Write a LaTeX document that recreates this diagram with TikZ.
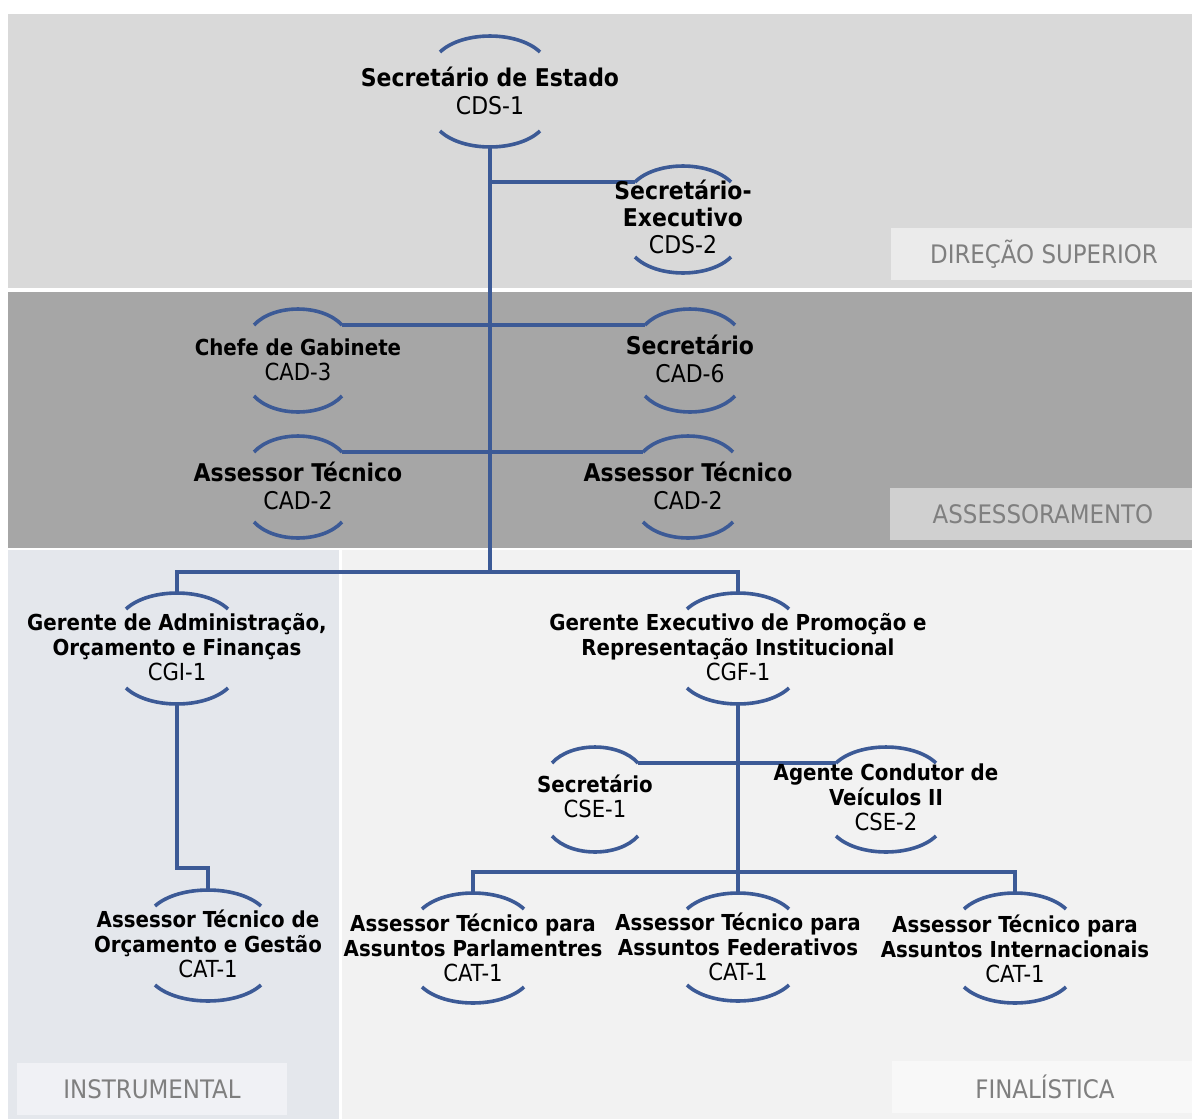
\documentclass[tikz,border=0pt]{standalone}
\usepackage{fontspec}
\setmainfont{DejaVu Sans Condensed}
\usetikzlibrary{calc}
\definecolor{secDS}{HTML}{D9D9D9}
\definecolor{secAS}{HTML}{A6A6A6}
\definecolor{secIN}{HTML}{E4E7EC}
\definecolor{secFI}{HTML}{F2F2F2}
\definecolor{labDS}{HTML}{EBEBEB}
\definecolor{labAS}{HTML}{D0D0D0}
\definecolor{labIN}{HTML}{F0F1F5}
\definecolor{labFI}{HTML}{F8F8F8}
\definecolor{orgblue}{HTML}{3C5A96}
\definecolor{labtxt}{HTML}{7F7F7F}
\tikzset{
  arcline/.style={draw=orgblue, line width=3.6pt},
  conn/.style={draw=orgblue, line width=3.2pt},
  unit/.style={align=center, font=\fontsize{22}{25}\selectfont, inner sep=0pt, text=black},
  unitbig/.style={unit, font=\fontsize{24.4}{27.3}\selectfont},
  seclabel/.style={font=\fontsize{25.5}{28}\selectfont, text=labtxt, inner sep=0pt}
}
\newcommand\codetxt[1]{{\fontsize{23.5}{25}\selectfont #1}}
% name, cx, y of top ends, y of bottom ends, half width
\newcommand\orgarcs[5]{%
  \coordinate (#1-t) at (#2,{#3-16});
  \coordinate (#1-b) at (#2,{#4+16});
  \coordinate (#1-tl) at ({#2-#5},#3);
  \coordinate (#1-tr) at ({#2+#5},#3);
  \draw[arcline] ({#2-#5},#3) .. controls ({#2-0.55*#5},{#3-21.3}) and ({#2+0.55*#5},{#3-21.3}) .. ({#2+#5},#3);
  \draw[arcline] ({#2-#5},#4) .. controls ({#2-0.55*#5},{#4+21.3}) and ({#2+0.55*#5},{#4+21.3}) .. ({#2+#5},#4);
}
\begin{document}
\begin{tikzpicture}[x=1pt,y=-1pt]
% background and sections
\fill[white] (0,0) rectangle (1192,1119);
\fill[secDS] (8,14) rectangle (1192,288);
\fill[secAS] (8,292) rectangle (1192,548);
\fill[secIN] (8,550) rectangle (339,1119);
\fill[secFI] (342,550) rectangle (1192,1119);
% section labels
\fill[labDS] (891,228) rectangle (1192,280);
\node[seclabel] (lds) at (1044,254) {DIREÇÃO SUPERIOR};
\fill[labAS] (890,488) rectangle (1192,540);
\node[seclabel] (las) at (1043,514) {ASSESSORAMENTO};
\fill[labIN] (17,1063) rectangle (287,1115);
\node[seclabel] (lin) at (152,1089) {INSTRUMENTAL};
\fill[labFI] (892,1061) rectangle (1192,1113);
\node[seclabel] (lfi) at (1045,1087) {FINALÍSTICA};
% arcs of the units
\orgarcs{se}{490}{52}{131}{50}
\orgarcs{sx}{683}{182}{257}{48}
\orgarcs{ch}{298}{325}{396}{44}
\orgarcs{sb}{690}{325}{396}{45}
\orgarcs{aa}{298}{452}{522}{44}
\orgarcs{ab}{688}{452}{522}{45}
\orgarcs{ga}{177}{609}{688}{51}
\orgarcs{ge}{738}{609}{688}{51}
\orgarcs{ca}{595}{763}{836}{43}
\orgarcs{cb}{886}{763}{836}{50}
\orgarcs{ao}{208}{906}{985}{53}
\orgarcs{pl}{473}{909}{987}{51}
\orgarcs{fd}{738}{909}{985}{51}
\orgarcs{it}{1015}{909}{987}{51}
% connectors
\coordinate (j1) at (490,572);
\coordinate (j2) at (177,868);
\coordinate (j3) at (738,872);
\draw[conn] (se-b) -- (j1);
\draw[conn] (sx-tl) -- (sx-tl -| se-b);
\draw[conn] (ch-tr) -- (sb-tl);
\draw[conn] (aa-tr) -- (ab-tl);
\draw[conn] (ga-t) -- (ga-t |- j1) -- (ge-t |- j1) -- (ge-t);
\draw[conn] (ga-b) -- (j2) -| (ao-t);
\draw[conn] (ge-b) -- (fd-t);
\draw[conn] (ca-tr) -- (cb-tl);
\draw[conn] (pl-t) -- (pl-t |- j3) -- (it-t |- j3) -- (it-t);
% unit texts
\node[unitbig] (se) at (490,91) {\textbf{Secretário de Estado}\\CDS-1};
\node[unitbig] (sx) at (683,217) {\textbf{Secretário-}\\\textbf{Executivo}\\CDS-2};
\node[unit] (ch) at (298,360) {\textbf{Chefe de Gabinete}\\\codetxt{CAD-3}};
\node[unitbig] (sb) at (690,359) {\textbf{Secretário}\\CAD-6};
\node[unitbig] (aa) at (298,486) {\textbf{Assessor Técnico}\\CAD-2};
\node[unitbig] (ab) at (688,486) {\textbf{Assessor Técnico}\\CAD-2};
\node[unit] (ga) at (177,647) {\textbf{Gerente de Administração,}\\\textbf{Orçamento e Finanças}\\\codetxt{CGI-1}};
\node[unit] (ge) at (738,647) {\textbf{Gerente Executivo de Promoção e}\\\textbf{Representação Institucional}\\\codetxt{CGF-1}};
\node[unit] (ca) at (595,796) {\textbf{Secretário}\\\codetxt{CSE-1}};
\node[unit] (cb) at (886,797) {\textbf{Agente Condutor de}\\\textbf{Veículos II}\\\codetxt{CSE-2}};
\node[unit] (ao) at (208,944) {\textbf{Assessor Técnico de}\\\textbf{Orçamento e Gestão}\\\codetxt{CAT-1}};
\node[unit] (pl) at (473,948) {\textbf{Assessor Técnico para}\\\textbf{Assuntos Parlamentres}\\\codetxt{CAT-1}};
\node[unit] (fd) at (738,947) {\textbf{Assessor Técnico para}\\\textbf{Assuntos Federativos}\\\codetxt{CAT-1}};
\node[unit] (it) at (1015,949) {\textbf{Assessor Técnico para}\\\textbf{Assuntos Internacionais}\\\codetxt{CAT-1}};
\end{tikzpicture}
\end{document}
